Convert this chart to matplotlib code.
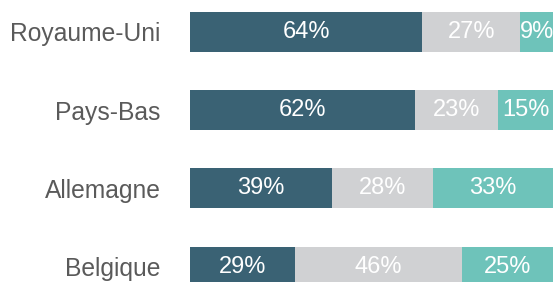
import numpy as np
import matplotlib.pyplot as plt

plt.rcParams['font.family'] = ['Liberation Sans', 'DejaVu Sans']

pays = ['Royaume-Uni', 'Pays-Bas', 'Allemagne', 'Belgique']
part_a = [64, 62, 39, 29]
part_b = [27, 23, 28, 46]
part_c = [9, 15, 33, 25]
couleurs = ['#3a6274', '#d0d1d3', '#6ec3ba']

fig = plt.figure(figsize=(5.54, 2.82), dpi=100)
ax = fig.add_axes([190 / 554, 0, 364 / 554, 1])

y = np.arange(len(pays))
gauche = np.zeros(len(pays))
for vals, c in zip([part_a, part_b, part_c], couleurs):
    vals = np.array(vals, dtype=float)
    ax.barh(y, vals, left=gauche, height=0.51, color=c, edgecolor='none')
    for yi, g, v in zip(y, gauche, vals):
        ax.text(g + v / 2, yi, f'{int(v)}%', ha='center', va='center',
                color='white', fontsize=17)
    gauche += vals

ax.set_xlim(0, 100.3)
ax.set_ylim(3.197, -0.409)
ax.set_yticks(y)
ax.set_yticklabels(pays, fontsize=17.7, color='#5a5a5a')
ax.tick_params(axis='y', length=0, pad=21)
ax.set_xticks([])
for s in ax.spines.values():
    s.set_visible(False)

fig.savefig('out.png', dpi=100)
